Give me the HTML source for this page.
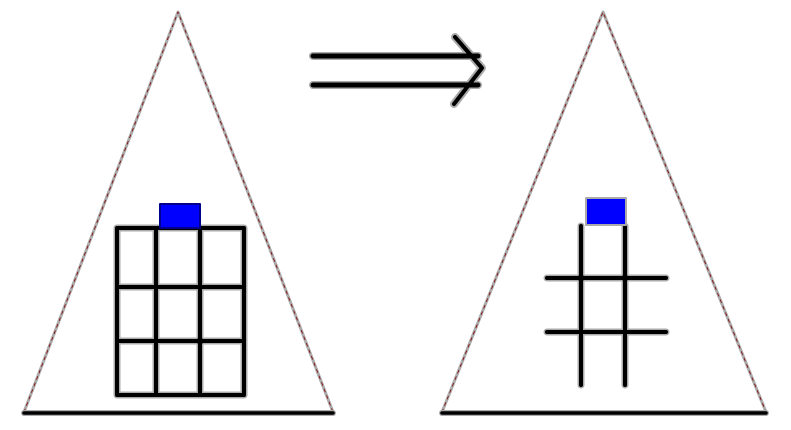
<!DOCTYPE html>
<html><head><meta charset="utf-8"><style>
html,body{margin:0;padding:0;background:#fff;}
svg{display:block;}
</style></head><body>
<svg width="791" height="430" viewBox="0 0 791 430" xmlns="http://www.w3.org/2000/svg">
<g fill="none" stroke-linecap="round" stroke-linejoin="round">
<!-- triangles sides -->
<g stroke="#aaa" stroke-width="3">
<polyline points="24,412 178,12 333,412"/>
<polyline points="442,412 603,12 766,412"/>
</g>
<g stroke="#800000" stroke-width="0.8" stroke-dasharray="3 4">
<polyline points="24,412 178,12 333,412"/>
<polyline points="442,412 603,12 766,412"/>
</g>
<!-- bases -->
<line x1="24" y1="413" x2="333" y2="413" stroke="#aaa" stroke-width="6"/>
<line x1="24" y1="413" x2="333" y2="413" stroke="#000" stroke-width="3.5"/>
<line x1="442" y1="413" x2="766" y2="413" stroke="#aaa" stroke-width="6"/>
<line x1="442" y1="413" x2="766" y2="413" stroke="#000" stroke-width="3.5"/>
<!-- arrow -->
<g stroke="#aaa" stroke-width="8">
<line x1="313" y1="56" x2="478" y2="56"/><line x1="313" y1="85" x2="478" y2="85"/>
<polyline points="455,37 482,68 454,104"/>
</g>
<g stroke="#000" stroke-width="5">
<line x1="313" y1="56" x2="478" y2="56"/><line x1="313" y1="85" x2="478" y2="85"/>
<polyline points="455,37 482,68 454,104" stroke-width="4"/>
</g>
<!-- left grid -->
<g stroke="#aaa" stroke-width="7">
<rect x="117" y="228" width="127" height="167"/>
<line x1="156" y1="228" x2="156" y2="395"/><line x1="200" y1="228" x2="200" y2="395"/>
<line x1="117" y1="287" x2="244" y2="287"/><line x1="117" y1="341" x2="244" y2="341"/>
</g>
<g stroke="#000" stroke-width="4">
<rect x="117" y="228" width="127" height="167"/>
<line x1="156" y1="228" x2="156" y2="395"/><line x1="200" y1="228" x2="200" y2="395"/>
<line x1="117" y1="287" x2="244" y2="287"/><line x1="117" y1="341" x2="244" y2="341"/>
</g>
<rect x="160" y="204" width="40" height="24" fill="#0000ff" stroke="#00008a" stroke-width="2"/>
<!-- right grid -->
<g stroke="#aaa" stroke-width="7">
<line x1="581" y1="226" x2="581" y2="385"/><line x1="625" y1="226" x2="625" y2="385"/>
<line x1="547" y1="278" x2="666" y2="278"/><line x1="547" y1="332" x2="666" y2="332"/>
</g>
<g stroke="#000" stroke-width="4">
<line x1="581" y1="226" x2="581" y2="385"/><line x1="625" y1="226" x2="625" y2="385"/>
<line x1="547" y1="278" x2="666" y2="278"/><line x1="547" y1="332" x2="666" y2="332"/>
</g>
<rect x="586" y="198" width="40" height="27" fill="#0000ff" stroke="#aaa" stroke-width="2"/>
</g>
<g fill="#000">
<circle cx="581" cy="278" r="3.5"/><circle cx="625" cy="278" r="3.5"/>
<circle cx="581" cy="332" r="2.5"/><circle cx="625" cy="332" r="2.5"/>
<circle cx="200" cy="341" r="3.5"/><circle cx="156" cy="341" r="2.5"/>
</g>
</svg>
</body></html>
